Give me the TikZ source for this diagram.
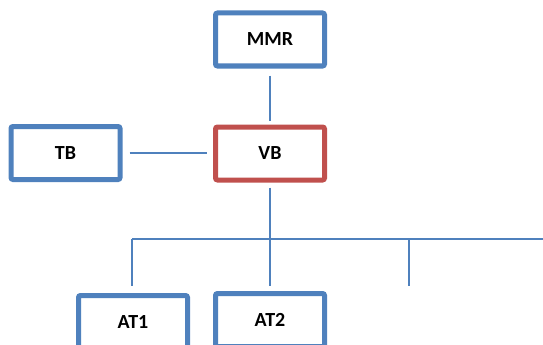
\documentclass[tikz,border=0pt]{standalone}
\usepackage{fontspec}
\setmainfont{Carlito}
\definecolor{boxblue}{HTML}{4F81BD}
\definecolor{boxred}{HTML}{C0504D}
\begin{document}
\begin{tikzpicture}[x=1pt,y=-1pt,
  box/.style={draw=#1, line width=5pt, rounded corners=2pt, minimum width=109pt, minimum height=53pt, fill=white, inner sep=0pt, font=\fontsize{20}{24}\selectfont\bfseries},
  conn/.style={draw=boxblue, line width=2pt}]
\useasboundingbox (0,0) rectangle (543,345);
\clip (0,0) rectangle (543,345);
\node[box=boxblue] (mmr) at (270,39.5) {MMR};
\node[box=boxred] (vb) at (270,153.5) {VB};
\node[box=boxblue] (tb) at (65.5,153) {TB};
\node[box=boxblue] (at1) at (133,322) {AT1};
\node[box=boxblue] (at2) at (270,320) {AT2};
\coordinate (busl) at (132,239);
\coordinate (busm) at (270,239);
\coordinate (busr) at (409,239);
\coordinate (busend) at (545,239);
\coordinate (drop3) at (409,286);
\draw[conn, shorten <=7pt, shorten >=4pt] (mmr.south) -- (vb.north);
\draw[conn, shorten <=7pt, shorten >=6pt] (tb.east) -- (tb.east -| vb.west);
\draw[conn, shorten <=5pt] (vb.south) -- (busm);
\draw[conn] (busl) -- (busend);
\draw[conn, shorten >=7pt] (busl) -- (busl |- at1.north);
\draw[conn, shorten >=5pt] (busm) -- (at2.north);
\draw[conn] (busr) -- (drop3);
\end{tikzpicture}
\end{document}
